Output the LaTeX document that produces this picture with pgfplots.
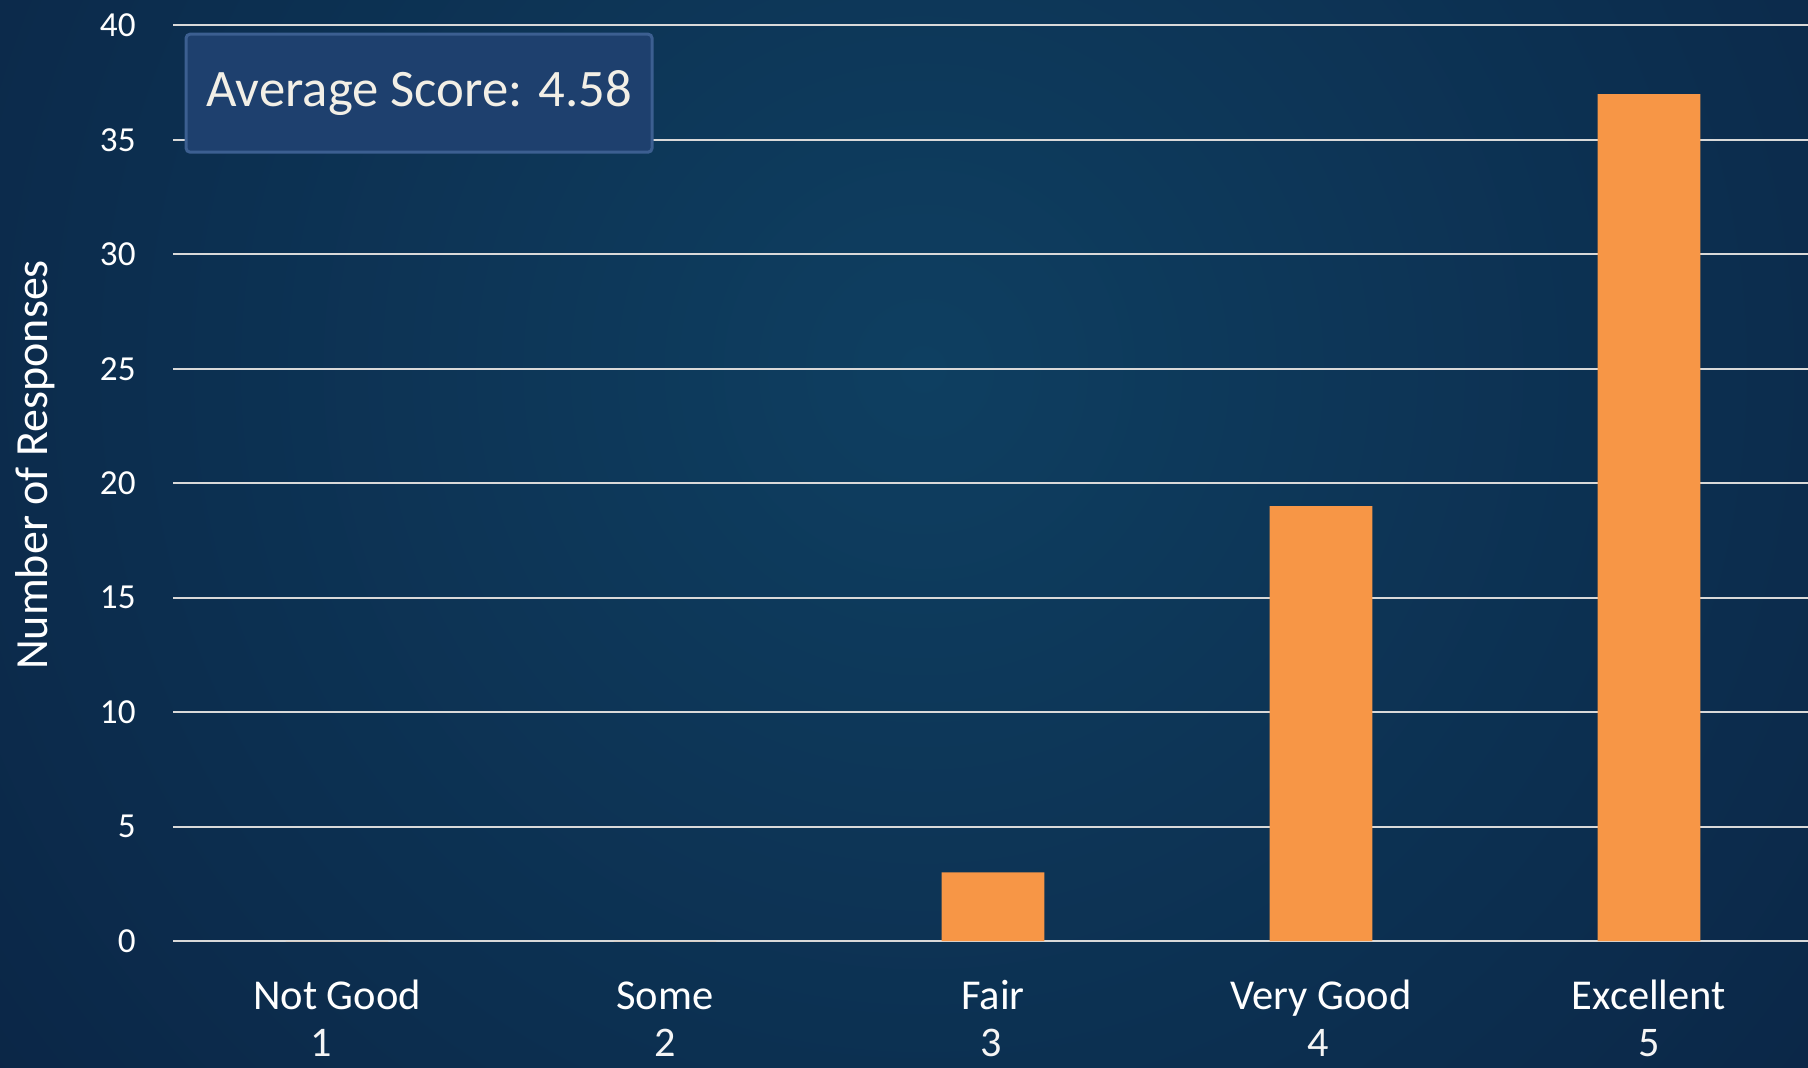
\documentclass[border=0pt]{standalone}
\usepackage{pgfplots}
\pgfplotsset{compat=1.18}
\usepackage{fontspec}
\setmainfont{Carlito}
\usetikzlibrary{backgrounds}
\definecolor{bgin}{RGB}{14,63,97}
\definecolor{bgout}{RGB}{10,29,61}
\definecolor{barc}{HTML}{F79646}
\definecolor{gridc}{HTML}{D9D9D9}
\definecolor{boxfill}{RGB}{30,64,110}
\definecolor{boxdraw}{RGB}{60,95,145}
\definecolor{boxtext}{RGB}{242,239,230}
\newcommand{\num}[1]{{\fontsize{12}{14}\selectfont\color{white!92!gray}#1}}
\begin{document}
\begin{tikzpicture}
\begin{axis}[
  at={(0,0)}, anchor=south west, scale only axis,
  width=16.35cm, height=9.156cm,
  xmin=0.5, xmax=5.485, ymin=0, ymax=40,
  ytick={0,5,...,40},
  xtick={1,2,3,4,5},
  xticklabels={{\strut Not Good\\[-1.5pt]\num{\hspace*{-0.32cm}1}},
               {\strut Some\\[-1.5pt]\num{2}},
               {\strut Fair\\[-1.5pt]\num{\hspace*{-0.04cm}3}},
               {\strut Very Good\\[-1.5pt]\num{\hspace*{-0.06cm}4}},
               {\strut Excellent\\[-1.5pt]\num{5}}},
  xticklabel style={align=center, text=white, font=\fontsize{12.1}{15}\selectfont, yshift=-0.19cm},
  yticklabel style={text=white, font=\fontsize{10}{12}\selectfont, xshift=-0.25cm},
  /pgf/number format/assume math mode=true,
  major tick length=0,
  axis line style={draw=none},
  ymajorgrids, grid style={gridc, line width=0.02cm},
  ylabel={Number of Responses},
  ylabel style={text=white, font=\fontsize{13.1}{15}\selectfont, at={(axis description cs:-0.0845,0.52)}, anchor=center},
]
\addplot[ybar, bar width=1.027cm, fill=barc, draw=none] coordinates {(1,0) (2,0) (3,3) (4,19) (5,37)};
\node[fill=boxfill, draw=boxdraw, line width=0.03cm, rounded corners=0.04cm,
      minimum width=4.66cm, minimum height=1.18cm, text=boxtext,
      font=\fontsize{15}{17}\selectfont] at (rel axis cs:0.1505,0.926) {Average Score: 4.58};
\end{axis}
\begin{scope}[on background layer]
\clip (-1.73,-1.26) rectangle (16.35,9.41);
\fill[bgout] (-1.73,-1.26) rectangle (16.35,9.41);
\shade[inner color=bgin, outer color=bgout] (7.5,5.72) circle (16cm);
\end{scope}
\pgfresetboundingbox
\path[use as bounding box] (-1.73,-1.26) rectangle (16.35,9.41);
\end{tikzpicture}
\end{document}
